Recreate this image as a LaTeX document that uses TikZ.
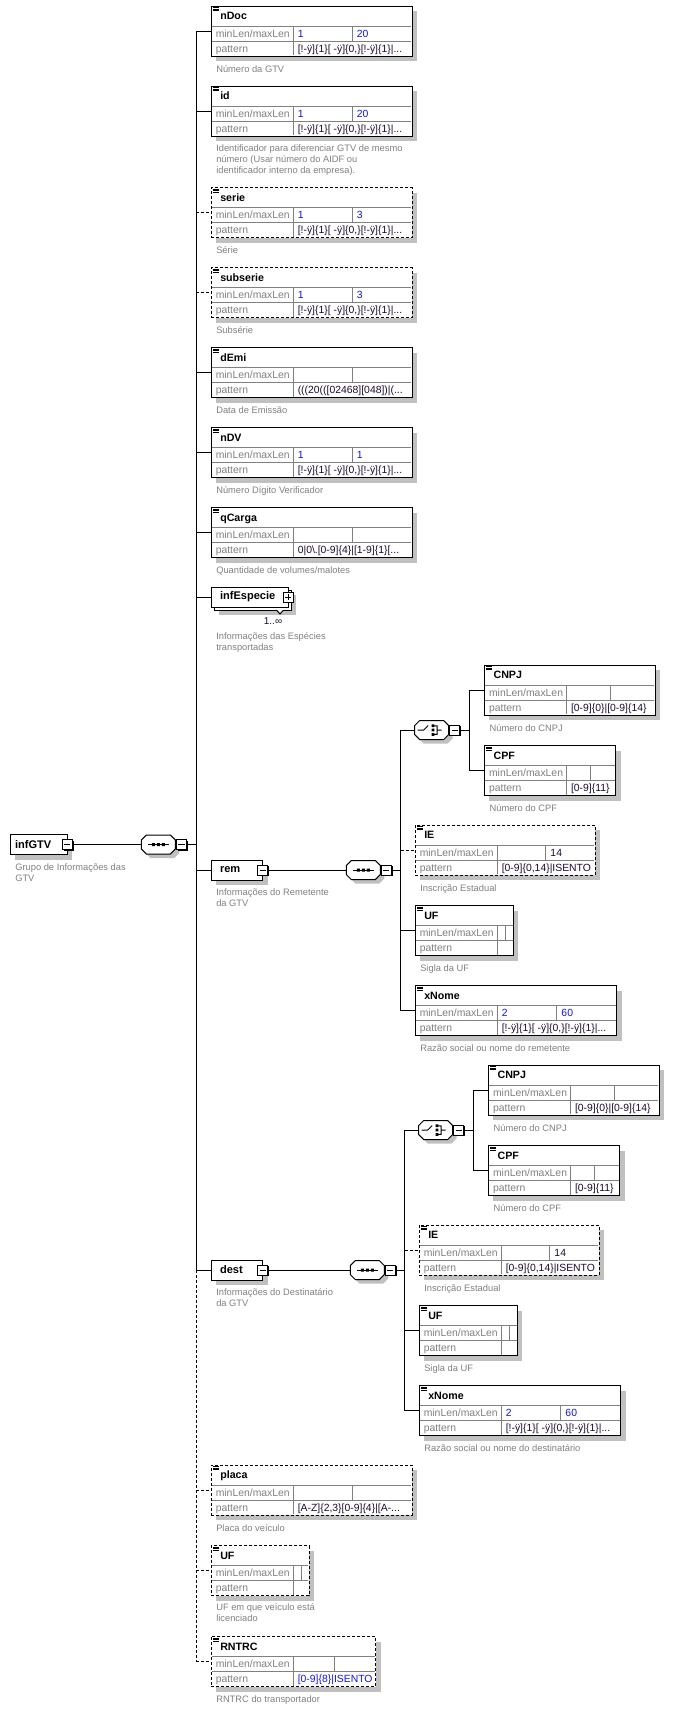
\documentclass[tikz,border=0pt]{standalone}
\usepackage{fontspec}
\setmainfont{Liberation Sans}
\usetikzlibrary{shadows}

\definecolor{lblgray}{RGB}{128,128,128}
\definecolor{shadegray}{RGB}{192,192,192}
\definecolor{valblue}{RGB}{20,20,235}
\definecolor{valdark}{RGB}{30,10,50}

\newcommand{\gtvtextpat}{[!-ÿ]\{1\}[ -ÿ]\{0,\}[!-ÿ]\{1\}|...}

% element box: name, border, top left, width, second column, title
\newcommand{\elbox}[6]{%
  \node[elbody,#2,minimum width=#4*0.75pt,anchor=north west] (#1) at (#3) {};
  \draw[rowline] ([shift={(0.6,20)}]#1.north west) -- ++(#4-1.2,0)
    ([shift={(0.6,35)}]#1.north west) -- ++(#4-1.2,0)
    ([shift={(82,20)}]#1.north west) -- ++(0,29.4)
    ([shift={(#5,20)}]#1.north west) -- ++(0,15);
  \draw[docmark] ([shift={(2,1.5)}]#1.north west) -- ++(5.5,0)
    ([shift={(2,3)}]#1.north west) -- ++(5.5,0)
    ([shift={(2,4.5)}]#1.north west) -- ++(5.5,0);
  \node[eltitle] (#1title) at ([shift={(9,13.5)}]#1.north west) {#6};
  \node[rowlabel] (#1len) at ([shift={(4.5,31)}]#1.north west) {minLen/maxLen};
  \node[rowlabel] (#1pat) at ([shift={(4.5,46)}]#1.north west) {pattern};
  \def\elcolB{#5}}

% facet values: name, colour, minLen, maxLen, colour, pattern
\newcommand{\elvals}[6]{%
  \node[rowvalue,text=#2] (#1min) at ([shift={(86.5,31)}]#1.north west) {#3};
  \node[rowvalue,text=#2] (#1max) at ([shift={(\elcolB+4.5,31)}]#1.north west) {#4};
  \node[rowvalue,text=#5] (#1patval) at ([shift={(86.5,46)}]#1.north west) {#6};}

% frame of a compositor symbol round a centre
\newcommand{\symframe}[1]{%
  \fill[shadegray] ([shift={(4,4)}]#1) ++(-17,-4.5) -- ++(5,-5) -- ++(24,0) -- ++(5,5)
    -- ++(0,9) -- ++(-5,5) -- ++(-24,0) -- ++(-5,-5) -- cycle;
  \filldraw[conn, fill=white] (#1) ++(-17,-4.5) -- ++(5,-5) -- ++(24,0) -- ++(5,5)
    -- ++(0,9) -- ++(-5,5) -- ++(-24,0) -- ++(-5,-5) -- cycle;}

% sequence symbol: name, centre
\newcommand{\seqsymbol}[2]{%
  \symframe{#2}
  \node[grpsym] (#1) at (#2) {};
  \draw[conn] (#1.center) ++(-10.5,0) -- ++(21,0);
  \fill (#1.center) ++(-6.5,-1.5) rectangle ++(3,3) ++(2,-3) rectangle ++(3,3) ++(2,-3) rectangle ++(3,3);}

% choice symbol: name, centre
\newcommand{\choicesymbol}[2]{%
  \symframe{#2}
  \node[grpsym] (#1) at (#2) {};
  \draw[conn] (#1.center) ++(-14,0) -- ++(6,0) -- ++(4.5,-4.5)
    (#1.center) ++(2.5,-4.25) -- ++(3,0) -- ++(0,8.5) -- ++(-3,0)
    (#1.center) ++(5.5,0) -- ++(4.5,0);
  \fill (#1.center) ++(0,-5.75) rectangle ++(2.75,2.75) ++(-2.75,1.625) rectangle ++(2.75,2.75) ++(-2.75,1.625) rectangle ++(2.75,2.75);}

\begin{document}
\begin{tikzpicture}[x=0.75pt, y=-0.75pt,
  boxshade/.style={drop shadow={shadow xshift=3.75pt, shadow yshift=-3.75pt, opacity=1, fill=shadegray}},
  elbody/.style={draw, fill=white, line width=0.75pt, minimum height=37.5pt, inner sep=0pt, outer sep=0pt, boxshade},
  optional/.style={dash pattern=on 2.25pt off 1.5pt},
  rowline/.style={line width=0.75pt, draw=lblgray},
  docmark/.style={line width=0.5pt},
  conn/.style={line width=0.75pt},
  eltitle/.style={anchor=base west, inner sep=0pt, font=\bfseries\fontsize{8}{9.6}\selectfont},
  rowlabel/.style={anchor=base west, inner sep=0pt, text=lblgray, font=\fontsize{7.8}{9}\selectfont},
  rowvalue/.style={anchor=base west, inner sep=0pt, font=\fontsize{7.8}{9}\selectfont},
  doc/.style={anchor=north west, align=left, inner sep=0pt, text=lblgray, font=\fontsize{7}{8.3}\selectfont, execute at begin node=\strut},
  grpbox/.style={draw, fill=white, line width=0.75pt, minimum height=15pt, inner ysep=0pt, outer sep=0pt, anchor=west, align=left, font=\bfseries\fontsize{8.3}{9.6}\selectfont},
  grpsym/.style={minimum width=25.5pt, minimum height=14.25pt, inner sep=0pt, outer sep=0pt},
  togglebox/.style={draw, fill=white, line width=0.75pt, minimum size=7.5pt, inner sep=0pt, outer sep=0pt,
    drop shadow={shadow xshift=0.9pt, shadow yshift=-0.9pt, opacity=1, fill=black},
    path picture={\draw[line width=0.75pt] ([xshift=1.4pt]path picture bounding box.west) -- ([xshift=-1.4pt]path picture bounding box.east);}},
  expandbox/.style={togglebox,
    path picture={\draw[line width=0.75pt] ([xshift=1.4pt]path picture bounding box.west) -- ([xshift=-1.4pt]path picture bounding box.east)
      ([yshift=-1.4pt]path picture bounding box.north) -- ([yshift=1.4pt]path picture bounding box.south);}},
  multlabel/.style={inner sep=0pt, text=valdark, font=\fontsize{7.5}{9}\selectfont}]
\useasboundingbox (0,0) rectangle (673,1710);

% root
\node[grpbox, boxshade, text width=35.5pt, inner xsep=3.75pt] (infGTV) at (10,844.5) {infGTV};
\node[togglebox] (infGTVtog) at (infGTV.east) {};
\node[doc] (infGTVdoc) at ([shift={(5,8.5)}]infGTV.south west) {Grupo de Informações das\\GTV};
\seqsymbol{gtvseq}{158.4,844.5}
\node[togglebox, anchor=west] (gtvseqtog) at ([shift={(1,0)}]gtvseq.east) {};
\coordinate (mainbus) at (196,0);

\elbox{nDoc}{solid}{211,6}{201}{141}{nDoc}
\elvals{nDoc}{valblue}{1}{20}{valdark}{\gtvtextpat}
\node[doc] (nDocdoc) at ([shift={(5,8)}]nDoc.south west) {Número da GTV};

\elbox{id}{solid}{211,86}{201}{141}{id}
\elvals{id}{valblue}{1}{20}{valdark}{\gtvtextpat}
\node[doc] (iddoc) at ([shift={(5,8)}]id.south west) {Identificador para diferenciar GTV de mesmo\\número (Usar número do AIDF ou\\identificador interno da empresa).};

\elbox{serie}{optional}{211,187.5}{201}{141}{serie}
\elvals{serie}{valblue}{1}{3}{valdark}{\gtvtextpat}
\node[doc] (seriedoc) at ([shift={(5,8)}]serie.south west) {Série};

\elbox{subserie}{optional}{211,267.5}{201}{141}{subserie}
\elvals{subserie}{valblue}{1}{3}{valdark}{\gtvtextpat}
\node[doc] (subseriedoc) at ([shift={(5,8)}]subserie.south west) {Subsérie};

\elbox{dEmi}{solid}{211,347.5}{201}{141}{dEmi}
\elvals{dEmi}{valblue}{}{}{valdark}{(((20(([02468][048])|(...}
\node[doc] (dEmidoc) at ([shift={(5,8)}]dEmi.south west) {Data de Emissão};

\elbox{nDV}{solid}{211,427.5}{201}{141}{nDV}
\elvals{nDV}{valblue}{1}{1}{valdark}{\gtvtextpat}
\node[doc] (nDVdoc) at ([shift={(5,8)}]nDV.south west) {Número Dígito Verificador};

\elbox{qCarga}{solid}{211,507.5}{201}{141}{qCarga}
\elvals{qCarga}{valblue}{}{}{valdark}{0|0\textbackslash.[0-9]\{4\}|[1-9]\{1\}[...}
\node[doc] (qCargadoc) at ([shift={(5,8)}]qCarga.south west) {Quantidade de volumes/malotes};

% infEspecie, 1..n
\node[grpbox, boxshade, minimum width=57.75pt] (infEspecieback) at (214,600) {};
\node[grpbox, text width=44.25pt, inner xsep=6.75pt] (infEspecie) at (211,597) {infEspecie};
\node[expandbox] (infEspecietog) at (infEspecie.east) {};
\draw[conn, fill=white] ([shift={(-14.5,0)}]infEspecieback.south east) -- ++(3.5,4) -- ++(3.5,-4);
\node[multlabel] (infEspeciemult) at ([shift={(-18,11.5)}]infEspecieback.south east) {1..∞};
\node[doc] (infEspeciedoc) at ([shift={(5,25.5)}]infEspecie.south west) {Informações das Espécies\\transportadas};

% rem
\node[grpbox, boxshade, text width=25.3pt, inner xsep=6.75pt] (rem) at (211,870) {rem};
\node[togglebox] (remtog) at (rem.east) {};
\node[doc] (remdoc) at ([shift={(5,8)}]rem.south west) {Informações do Remetente\\da GTV};
\seqsymbol{remseq}{363.3,870}
\node[togglebox, anchor=west] (remseqtog) at ([shift={(1,0)}]remseq.east) {};
\coordinate (rembus) at (400.7,0);
\choicesymbol{remchoice}{431.7,730}
\node[togglebox, anchor=west] (remchoicetog) at ([shift={(1,0)}]remchoice.east) {};
\coordinate (remchoicebus) at (469.3,0);

\elbox{remCNPJ}{solid}{484.3,665}{170.7}{126.4}{CNPJ}
\elvals{remCNPJ}{valdark}{}{}{valdark}{[0-9]\{0\}|[0-9]\{14\}}
\node[doc] (remCNPJdoc) at ([shift={(5,8)}]remCNPJ.south west) {Número do CNPJ};

\elbox{remCPF}{solid}{484.3,745.7}{131.4}{105.7}{CPF}
\elvals{remCPF}{valdark}{}{}{valdark}{[0-9]\{11\}}
\node[doc] (remCPFdoc) at ([shift={(5,8)}]remCPF.south west) {Número do CPF};

\elbox{remIE}{optional}{415,825}{180}{130.7}{IE}
\elvals{remIE}{valdark}{}{14}{valdark}{[0-9]\{0,14\}|ISENTO}
\node[doc] (remIEdoc) at ([shift={(5,8)}]remIE.south west) {Inscrição Estadual};

\elbox{remUF}{solid}{415,905.7}{98.3}{90}{UF}
\node[doc] (remUFdoc) at ([shift={(5,8)}]remUF.south west) {Sigla da UF};

\elbox{remxNome}{solid}{415,985.7}{201.7}{141.7}{xNome}
\elvals{remxNome}{valblue}{2}{60}{valdark}{\gtvtextpat}
\node[doc] (remxNomedoc) at ([shift={(5,8)}]remxNome.south west) {Razão social ou nome do remetente};

% dest
\node[grpbox, boxshade, text width=25.3pt, inner xsep=6.75pt] (dest) at (211,1270) {dest};
\node[togglebox] (desttog) at (dest.east) {};
\node[doc] (destdoc) at ([shift={(5,8)}]dest.south west) {Informações do Destinatário\\da GTV};
\seqsymbol{destseq}{367.3,1270}
\node[togglebox, anchor=west] (destseqtog) at ([shift={(1,0)}]destseq.east) {};
\coordinate (destbus) at (404.7,0);
\choicesymbol{destchoice}{435.7,1130}
\node[togglebox, anchor=west] (destchoicetog) at ([shift={(1,0)}]destchoice.east) {};
\coordinate (destchoicebus) at (473.3,0);

\elbox{destCNPJ}{solid}{488.3,1065}{170.7}{126.4}{CNPJ}
\elvals{destCNPJ}{valdark}{}{}{valdark}{[0-9]\{0\}|[0-9]\{14\}}
\node[doc] (destCNPJdoc) at ([shift={(5,8)}]destCNPJ.south west) {Número do CNPJ};

\elbox{destCPF}{solid}{488.3,1145.7}{131.4}{105.7}{CPF}
\elvals{destCPF}{valdark}{}{}{valdark}{[0-9]\{11\}}
\node[doc] (destCPFdoc) at ([shift={(5,8)}]destCPF.south west) {Número do CPF};

\elbox{destIE}{optional}{419,1225}{180}{130.7}{IE}
\elvals{destIE}{valdark}{}{14}{valdark}{[0-9]\{0,14\}|ISENTO}
\node[doc] (destIEdoc) at ([shift={(5,8)}]destIE.south west) {Inscrição Estadual};

\elbox{destUF}{solid}{419,1305.7}{98.3}{90}{UF}
\node[doc] (destUFdoc) at ([shift={(5,8)}]destUF.south west) {Sigla da UF};

\elbox{destxNome}{solid}{419,1385.7}{201.7}{141.7}{xNome}
\elvals{destxNome}{valblue}{2}{60}{valdark}{\gtvtextpat}
\node[doc] (destxNomedoc) at ([shift={(5,8)}]destxNome.south west) {Razão social ou nome do destinatário};

% optional tail
\elbox{placa}{optional}{211,1465}{201}{141}{placa}
\elvals{placa}{valdark}{}{}{valdark}{[A-Z]\{2,3\}[0-9]\{4\}|[A-...}
\node[doc] (placadoc) at ([shift={(5,8)}]placa.south west) {Placa do veículo};

\elbox{veicUF}{optional}{211,1545.5}{98}{90.7}{UF}
\node[doc] (veicUFdoc) at ([shift={(5,8)}]veicUF.south west) {UF em que veículo está\\licenciado};

\elbox{RNTRC}{optional}{211,1636.5}{164.7}{123.3}{RNTRC}
\elvals{RNTRC}{valdark}{}{}{valblue}{[0-9]\{8\}|ISENTO}
\node[doc] (RNTRCdoc) at ([shift={(5,8)}]RNTRC.south west) {RNTRC do transportador};

% connectors
\draw[conn] (infGTVtog) -- (gtvseq) (gtvseqtog) -- (mainbus |- gtvseqtog)
  (mainbus |- nDoc.west) -- (mainbus |- dest.west)
  (mainbus |- nDoc.west) -- (nDoc.west) (mainbus |- id.west) -- (id.west)
  (mainbus |- dEmi.west) -- (dEmi.west) (mainbus |- nDV.west) -- (nDV.west)
  (mainbus |- qCarga.west) -- (qCarga.west) (mainbus |- infEspecie.west) -- (infEspecie.west)
  (mainbus |- rem.west) -- (rem.west) (mainbus |- dest.west) -- (dest.west);
\draw[conn, optional] (mainbus |- dest.west) -- (mainbus |- RNTRC.west)
  (mainbus |- serie.west) -- (serie.west) (mainbus |- subserie.west) -- (subserie.west)
  (mainbus |- placa.west) -- (placa.west) (mainbus |- veicUF.west) -- (veicUF.west)
  (mainbus |- RNTRC.west) -- (RNTRC.west);

\draw[conn] (remtog) -- (remseq) (remseqtog) -- (rembus |- remseqtog)
  (rembus |- remchoice) -- (rembus |- remxNome.west) (rembus |- remchoice) -- (remchoice)
  (remchoicetog) -- (remchoicebus |- remchoicetog)
  (remchoicebus |- remCNPJ.west) -- (remchoicebus |- remCPF.west)
  (remchoicebus |- remCNPJ.west) -- (remCNPJ.west) (remchoicebus |- remCPF.west) -- (remCPF.west)
  (rembus |- remUF.west) -- (remUF.west) (rembus |- remxNome.west) -- (remxNome.west);
\draw[conn, optional] (rembus |- remIE.west) -- (remIE.west);

\draw[conn] (desttog) -- (destseq) (destseqtog) -- (destbus |- destseqtog)
  (destbus |- destchoice) -- (destbus |- destxNome.west) (destbus |- destchoice) -- (destchoice)
  (destchoicetog) -- (destchoicebus |- destchoicetog)
  (destchoicebus |- destCNPJ.west) -- (destchoicebus |- destCPF.west)
  (destchoicebus |- destCNPJ.west) -- (destCNPJ.west) (destchoicebus |- destCPF.west) -- (destCPF.west)
  (destbus |- destUF.west) -- (destUF.west) (destbus |- destxNome.west) -- (destxNome.west);
\draw[conn, optional] (destbus |- destIE.west) -- (destIE.west);
\end{tikzpicture}
\end{document}
